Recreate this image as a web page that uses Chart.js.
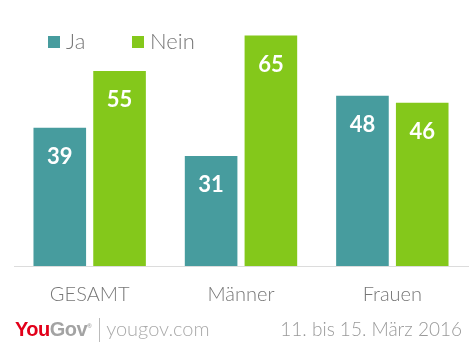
<!DOCTYPE html>
<html>
<head>
<meta charset="utf-8">
<script src="https://cdn.jsdelivr.net/npm/chart.js@4.4.0/dist/chart.umd.min.js"></script>
<style>
  html, body { margin: 0; padding: 0; background: #fff; }
  #wrap { position: relative; width: 475px; height: 350px; font-family: Lato, 'Open Sans', sans-serif; }
  #chart { position: absolute; left: 0; top: 0; }
  .legend { position: absolute; top: 27px; font-size: 22px; font-weight: 300; color: #777; }
  .legend span.sw { display: inline-block; width: 12px; height: 12px; margin-right: 6px; vertical-align: 1px; }
  #footer { position: absolute; left: 15px; top: 316px; width: 450px; color: #999; }
  .logo { font-family: Arial, 'Liberation Sans', sans-serif; font-weight: bold; font-size: 20px; letter-spacing: -0.5px; }
  .logo .you { color: #e2001a; }
  .logo .gov { color: #a3a3a3; }
  .logo sup { font-size: 6px; color: #a3a3a3; }
  .sep { display: inline-block; width: 1px; height: 24px; background: #bbb; margin: 0 6px 0 8px; vertical-align: -6px; }
  .site { font-size: 20px; font-weight: 300; color: #aaa; }
  .date { position: absolute; right: 3px; top: 1px; font-size: 19px; font-weight: 300; color: #999; }
</style>
</head>
<body>
<div id="wrap">
  <canvas id="chart" width="475" height="350"></canvas>
  <div class="legend" style="left:48px"><span class="sw" style="background:#479c9e"></span>Ja</div>
  <div class="legend" style="left:132px"><span class="sw" style="background:#84c81b"></span>Nein</div>
  <div id="footer">
    <span class="logo"><span class="you">You</span><span class="gov">Gov</span><sup>®</sup></span><span class="sep"></span><span class="site">yougov.com</span>
    <span class="date">11. bis 15. März 2016</span>
  </div>
</div>
<script>
const categories = ['GESAMT', 'Männer', 'Frauen'];
const jaValues = [39, 31, 48];
const neinValues = [55, 65, 46];
const seriesNames = ['Ja', 'Nein'];

const valueLabels = {
    id: 'valueLabels',
    afterDatasetsDraw(chart) {
        const ctx = chart.ctx;
        ctx.save();
        ctx.fillStyle = '#fff';
        ctx.font = 'bold 22px Lato, "Open Sans", sans-serif';
        ctx.textAlign = 'center';
        ctx.textBaseline = 'middle';
        chart.data.datasets.forEach((ds, i) => {
            chart.getDatasetMeta(i).data.forEach((bar, j) => {
                ctx.fillText(ds.data[j], bar.x, bar.y + 29);
            });
        });
        ctx.restore();
    }
};

new Chart('chart', {
    type: 'bar',
    data: {
        labels: categories,
        datasets: [
            { label: seriesNames[0], data: jaValues, backgroundColor: '#479c9e' },
            { label: seriesNames[1], data: neinValues, backgroundColor: '#84c81b' }
        ]
    },
    options: {
        responsive: false,
        animation: false,
        layout: { padding: { left: 14, right: 7, top: 0, bottom: 26 } },
        datasets: { bar: { categoryPercentage: 0.79, barPercentage: 0.88 } },
        plugins: {
            legend: { display: false },
            tooltip: { enabled: false }
        },
        scales: {
            y: { display: false, min: 0, max: 75 },
            x: {
                grid: { display: false, drawTicks: false },
                border: { display: true, color: '#dcdcdc', width: 1 },
                ticks: {
                    color: '#777',
                    padding: 17,
                    font: { family: 'Lato, "Open Sans", sans-serif', size: 20, weight: 300 }
                }
            }
        }
    },
    plugins: [valueLabels]
});
</script>
</body>
</html>
